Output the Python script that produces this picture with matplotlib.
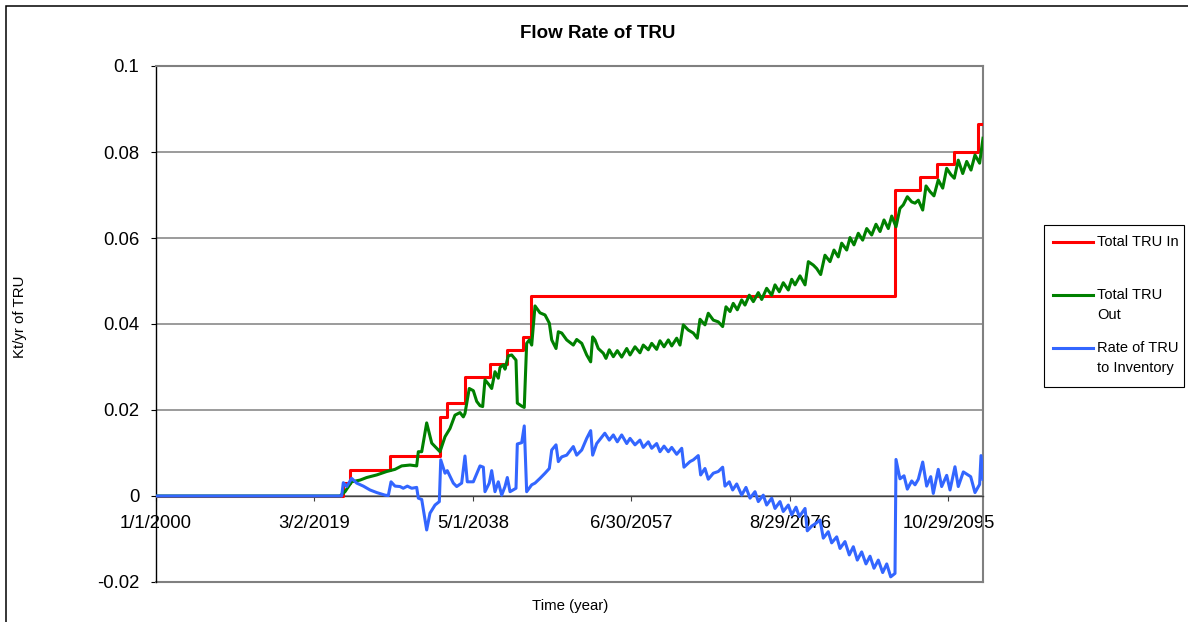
import datetime as dt

import matplotlib
matplotlib.use('Agg')
import matplotlib.pyplot as plt
from matplotlib.lines import Line2D
from matplotlib.patches import Rectangle
from matplotlib.ticker import FixedLocator, FuncFormatter
import matplotlib.dates as mdates

plt.rcParams['font.family'] = ['Liberation Sans', 'DejaVu Sans']

# Total TRU In: stepped rate, each level holds until the next change year
tru_in_years = [2000, 2022.6, 2023.5, 2028.3, 2034.35, 2035.2, 2037.4, 2040.4,
                2042.4, 2044.4, 2045.4, 2089.4, 2092.4, 2094.4, 2096.5, 2099.4, 2100]
tru_in = [0, 0.0031, 0.006, 0.0094, 0.0184, 0.0216, 0.0276, 0.0306,
          0.034, 0.037, 0.0465, 0.0712, 0.0741, 0.0771, 0.0801, 0.0865, 0.0865]

# Total TRU Out
tru_out_years = [
    2000, 2022.25, 2022.85, 2023.66, 2024.67, 2025.48, 2026.69, 2027.9, 2028.9, 2029.71,
    2030.71, 2031.52, 2031.72, 2032.13, 2032.73, 2033.34, 2033.94, 2034.34, 2034.95, 2035.55,
    2036.15, 2036.76, 2037.16, 2037.36, 2037.88, 2038.37, 2038.78, 2039.18, 2039.5, 2039.78,
    2040.3, 2040.59, 2040.99, 2041.39, 2041.6, 2042.0, 2042.2, 2042.6, 2043.01, 2043.53,
    2043.69, 2044.22, 2044.53, 2044.82, 2045.14, 2045.43, 2045.83, 2046.43, 2047.04, 2047.56,
    2047.85, 2048.37, 2048.65, 2049.06, 2049.66, 2050.46, 2050.87, 2051.48, 2052.08, 2052.56,
    2052.8, 2053.08, 2053.48, 2054.09, 2054.41, 2054.81, 2055.3, 2055.78, 2056.31, 2056.92,
    2057.32, 2057.92, 2058.52, 2058.92, 2059.53, 2059.94, 2060.54, 2060.94, 2061.43, 2061.95,
    2062.36, 2062.96, 2063.36, 2063.76, 2064.36, 2064.97, 2065.45, 2065.78, 2066.38, 2066.78,
    2067.39, 2067.99, 2068.52, 2068.92, 2069.41, 2069.8, 2070.29, 2070.82, 2071.22, 2071.74,
    2072.23, 2072.83, 2073.24, 2073.84, 2074.45, 2074.85, 2075.37, 2075.85, 2076.46, 2076.87,
    2077.27, 2077.87, 2078.48, 2078.88, 2079.48, 2079.89, 2080.37, 2080.89, 2081.5, 2081.98,
    2082.5, 2082.91, 2083.52, 2083.92, 2084.4, 2084.92, 2085.45, 2085.94, 2086.54, 2087.06,
    2087.55, 2088.03, 2088.55, 2088.96, 2089.48, 2089.96, 2090.36, 2090.85, 2091.38, 2091.78,
    2092.18, 2092.71, 2093.11, 2093.59, 2094.07, 2094.59, 2095.13, 2095.61, 2096.13, 2096.53,
    2097.01, 2097.55, 2098.03, 2098.55, 2099.03, 2099.59, 2100.0,
]
tru_out = [
    0, 0, 0.001, 0.0033, 0.0037, 0.0043, 0.0049, 0.0057, 0.0062, 0.007,
    0.0072, 0.007, 0.0103, 0.0103, 0.017, 0.0123, 0.0111, 0.0103, 0.0138, 0.0157,
    0.0188, 0.0194, 0.0184, 0.0192, 0.025, 0.0245, 0.022, 0.021, 0.0208, 0.027,
    0.0258, 0.025, 0.0289, 0.0274, 0.0299, 0.0305, 0.0295, 0.0326, 0.0328, 0.0316,
    0.0216, 0.0209, 0.0206, 0.0355, 0.0363, 0.0351, 0.0442, 0.0426, 0.0421, 0.0402,
    0.0363, 0.0343, 0.0382, 0.0379, 0.0363, 0.0351, 0.0364, 0.0355, 0.0328, 0.0312,
    0.037, 0.0363, 0.0343, 0.0332, 0.032, 0.034, 0.0324, 0.0338, 0.0323, 0.0343,
    0.0328, 0.0347, 0.0333, 0.0351, 0.034, 0.0355, 0.0341, 0.0361, 0.0347, 0.0363,
    0.0349, 0.0367, 0.0351, 0.0398, 0.0386, 0.0379, 0.0367, 0.0411, 0.0398, 0.0425,
    0.0409, 0.0405, 0.0394, 0.044, 0.0429, 0.0448, 0.0433, 0.0456, 0.0444, 0.0467,
    0.0452, 0.0473, 0.0457, 0.0483, 0.0467, 0.0491, 0.0475, 0.0496, 0.0479, 0.0504,
    0.0491, 0.0512, 0.0491, 0.0545, 0.0537, 0.0529, 0.0515, 0.056, 0.0545, 0.0572,
    0.0556, 0.0588, 0.0572, 0.0601, 0.0584, 0.0611, 0.0595, 0.0622, 0.0607, 0.0632,
    0.0615, 0.0642, 0.0622, 0.0651, 0.0626, 0.0669, 0.0677, 0.0696, 0.0684, 0.0681,
    0.0688, 0.0665, 0.0721, 0.0708, 0.0698, 0.0735, 0.0716, 0.0762, 0.0747, 0.0739,
    0.0781, 0.075, 0.0778, 0.0758, 0.0793, 0.0774, 0.0832,
]

# Rate of TRU to Inventory
inventory_years = [
    2000, 2022.45, 2022.65, 2023.06, 2023.66, 2024.27, 2025.07, 2025.88, 2026.69, 2027.69,
    2028.09, 2028.42, 2028.9, 2029.5, 2029.9, 2030.39, 2030.92, 2031.52, 2031.72, 2032.13,
    2032.73, 2033.13, 2033.74, 2034.26, 2034.43, 2034.95, 2035.22, 2035.95, 2036.36, 2036.96,
    2037.36, 2037.64, 2038.37, 2039.18, 2039.58, 2039.78, 2040.3, 2040.59, 2040.99, 2041.39,
    2041.8, 2042.2, 2042.48, 2042.81, 2043.53, 2043.69, 2044.22, 2044.53, 2044.82, 2045.43,
    2045.83, 2046.43, 2047.04, 2047.56, 2047.85, 2048.37, 2048.65, 2049.06, 2049.66, 2050.46,
    2050.87, 2051.48, 2052.08, 2052.56, 2052.8, 2053.29, 2054.27, 2054.81, 2055.3, 2055.78,
    2056.31, 2056.92, 2057.32, 2057.92, 2058.52, 2058.92, 2059.53, 2059.94, 2060.54, 2060.94,
    2061.43, 2061.95, 2062.36, 2062.96, 2063.57, 2063.84, 2064.57, 2064.97, 2065.57, 2065.86,
    2066.38, 2066.78, 2067.39, 2067.99, 2068.52, 2068.8, 2069.32, 2069.73, 2070.22, 2070.82,
    2071.34, 2071.83, 2072.43, 2072.83, 2073.43, 2073.84, 2074.45, 2074.85, 2075.45, 2075.85,
    2076.46, 2076.87, 2077.39, 2077.79, 2078.48, 2078.75, 2079.29, 2079.69, 2080.29, 2080.69,
    2081.29, 2081.7, 2082.31, 2082.71, 2083.31, 2083.83, 2084.32, 2084.8, 2085.33, 2085.85,
    2086.34, 2086.82, 2087.34, 2087.87, 2088.36, 2088.84, 2089.36, 2089.48, 2089.96, 2090.45,
    2090.85, 2091.38, 2091.78, 2092.18, 2092.71, 2093.19, 2093.68, 2093.99, 2094.59, 2095.0,
    2095.61, 2096.01, 2096.61, 2097.01, 2097.62, 2098.51, 2099.03, 2099.59, 2099.76, 2100.0,
]
inventory_rate = [
    0, 0, 0.0031, 0.0022, 0.0041, 0.003, 0.0023, 0.0014, 0.0008, 0.0002,
    0.0001, 0.0033, 0.0023, 0.0022, 0.0018, 0.0023, 0.0018, 0.002, -0.0005, -0.0008,
    -0.0079, -0.004, -0.0021, -0.0013, 0.0084, 0.0053, 0.0059, 0.003, 0.0022, 0.003,
    0.0093, 0.0033, 0.0033, 0.007, 0.0067, 0.001, 0.003, 0.0059, 0.001, 0.0033,
    0.0002, 0.0022, 0.0043, 0.001, 0.0018, 0.0121, 0.0124, 0.0163, 0.001, 0.0026,
    0.003, 0.0041, 0.0053, 0.0064, 0.0107, 0.0119, 0.008, 0.0091, 0.0095, 0.0115,
    0.0095, 0.0107, 0.0134, 0.0152, 0.0095, 0.0122, 0.0146, 0.013, 0.0142, 0.0126,
    0.0142, 0.0122, 0.0134, 0.0119, 0.013, 0.0113, 0.0126, 0.0111, 0.0122, 0.0103,
    0.0116, 0.0103, 0.0113, 0.0097, 0.0111, 0.0067, 0.008, 0.0084, 0.0094, 0.0049,
    0.0064, 0.0039, 0.0053, 0.0057, 0.0067, 0.0023, 0.0033, 0.0014, 0.0028, 0.0002,
    0.002, -0.0005, 0.001, -0.0013, 0.0002, -0.0021, -0.0005, -0.0029, -0.0013, -0.0036,
    -0.0021, -0.0044, -0.0026, -0.0048, -0.0029, -0.0081, -0.007, -0.0065, -0.0056, -0.0098,
    -0.0083, -0.0109, -0.0095, -0.0122, -0.0106, -0.0137, -0.0118, -0.0149, -0.013, -0.0158,
    -0.014, -0.0168, -0.0149, -0.0178, -0.0158, -0.0188, -0.018, 0.0085, 0.004, 0.0047,
    0.0016, 0.0035, 0.0026, 0.0039, 0.0079, 0.0023, 0.0045, 0.0006, 0.0062, 0.0022,
    0.0048, 0.0014, 0.0068, 0.0022, 0.0056, 0.0045, 0.0008, 0.0027, 0.0094, 0.0039,
]

series_labels = ['Total TRU In', 'Total TRU\nOut', 'Rate of TRU\nto Inventory']
series_colors = ['#ff0000', '#008000', '#3366ff']

START = dt.datetime(2000, 1, 1)
END = dt.datetime(2100, 1, 1)
tick_dates = [START + dt.timedelta(days=7000 * k) for k in range(6)]
y_ticks = [-0.02, 0, 0.02, 0.04, 0.06, 0.08, 0.1]

W, H = 1188, 622


def to_dates(years):
    return [START + dt.timedelta(days=(y - 2000) * 365.25) for y in years]


def fx(px):
    return px / W


def fy(py):
    return 1 - py / H


fig = plt.figure(figsize=(W / 100, H / 100), dpi=100)
ax = fig.add_axes([fx(156), fy(582), fx(983) - fx(156), fy(66) - fy(582)])

line_in, = ax.plot(to_dates(tru_in_years), tru_in, color=series_colors[0],
                   lw=2.2, drawstyle='steps-post', zorder=3)
line_out, = ax.plot(to_dates(tru_out_years), tru_out, color=series_colors[1],
                    lw=2.2, zorder=4)
line_inv, = ax.plot(to_dates(inventory_years), inventory_rate, color=series_colors[2],
                    lw=2.2, zorder=5)

ax.set_xlim(START, END)
ax.set_ylim(-0.02, 0.1)

ax.xaxis.set_major_locator(FixedLocator(mdates.date2num(tick_dates)))
ax.xaxis.set_major_formatter(FuncFormatter(
    lambda v, pos: '{d.month}/{d.day}/{d.year}'.format(d=mdates.num2date(v))))
ax.yaxis.set_major_locator(FixedLocator(y_ticks))
ax.yaxis.set_major_formatter(FuncFormatter(lambda v, pos: f'{v:g}'))

ax.tick_params(axis='x', direction='out', length=3.6, width=0.8, color='#404040',
               pad=10, labelsize=13.3)
ax.tick_params(axis='y', direction='out', length=3.6, width=0.8, color='#000000',
               pad=8.5, labelsize=13.3)

ax.grid(axis='y', color='#808080', lw=1.1, zorder=1)
ax.set_axisbelow(True)

# x axis sits on the zero line, the plot border is drawn separately
ax.spines['bottom'].set_position(('data', 0))
ax.spines['bottom'].set_color('#404040')
ax.spines['bottom'].set_linewidth(1.0)
ax.spines['left'].set_color('#000000')
ax.spines['left'].set_linewidth(1.0)
for side in ('top', 'right'):
    ax.spines[side].set_color('#808080')
    ax.spines[side].set_linewidth(1.5)
ax.add_line(Line2D([0, 1], [0, 0], transform=ax.transAxes, color='#808080',
                   lw=1.5, clip_on=False, zorder=2))

fig.text(fx(598), fy(33), 'Flow Rate of TRU', ha='center', va='center',
         fontsize=13.5, fontweight='bold')
fig.text(fx(570), fy(606), 'Time (year)', ha='center', va='center', fontsize=10.8)
fig.text(fx(20), fy(317), 'Kt/yr of TRU', ha='center', va='center', fontsize=10.8,
         rotation=90)

# legend box to the right of the plot
fig.add_artist(Rectangle((fx(1044), fy(387)), fx(1184) - fx(1044), fy(225) - fy(387),
                         transform=fig.transFigure, fill=False, edgecolor='black', lw=0.8))
for i, (line, label) in enumerate(zip([line_in, line_out, line_inv], series_labels)):
    yc = 242 + 53 * i
    fig.add_artist(Line2D([fx(1053), fx(1093)], [fy(yc), fy(yc)], transform=fig.transFigure,
                          color=line.get_color(), lw=2.2))
    for j, part in enumerate(label.split('\n')):
        fig.text(fx(1097), fy(yc + 20 * j), part, ha='left', va='center', fontsize=10.5)

# outer chart frame
fig.add_artist(Rectangle((fx(5.5), -0.05), 1.2, fy(5.5) + 0.05, transform=fig.transFigure,
                         fill=False, edgecolor='black', lw=1.1))

fig.savefig('out.png', dpi=100)
